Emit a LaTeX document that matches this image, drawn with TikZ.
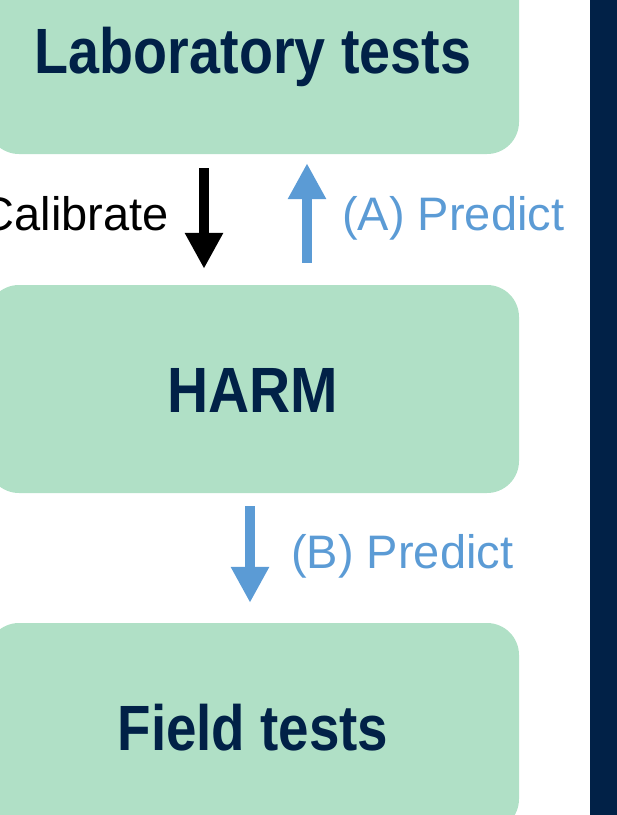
\documentclass[tikz,border=0pt]{standalone}
\usepackage{fontspec}
\setmainfont{Liberation Sans}
\usetikzlibrary{arrows.meta}
\definecolor{navy}{HTML}{012147}
\definecolor{mint}{HTML}{B0E0C6}
\definecolor{skyblue}{HTML}{5B9BD5}
\begin{document}
\begin{tikzpicture}[x=1pt,y=-1pt,
  box/.style={fill=mint, rounded corners=32pt, minimum width=532pt, minimum height=208pt,
    inner sep=0pt, text=navy, font=\fontsize{64}{64}\selectfont\bfseries,
    text height=46pt, text depth=0pt},
  blockarrow/.style={line width=10pt, -{Triangle[length=36pt,width=36pt]}},
  lbl/.style={font=\fontsize{47}{47}\selectfont, inner sep=0pt}]
\useasboundingbox (0,0) rectangle (617,815);
\clip (0,0) rectangle (617,815);
\fill[navy] (590,0) rectangle (617,815);
\node[box] (lab) at (253,50) {\scalebox{0.87}[1]{Laboratory tests}};
\node[box] (harm) at (253,389) {\scalebox{0.89}[1]{HARM}};
\node[box] (field) at (253,727) {\scalebox{0.855}[1]{Field tests}};
\draw[blockarrow, black] ([xshift=-49pt,yshift=-14pt]lab.south) -- ([xshift=-49pt,yshift=16pt]harm.north);
\draw[blockarrow, skyblue] ([xshift=54pt,yshift=22pt]harm.north) -- ([xshift=54pt,yshift=-9pt]lab.south);
\draw[blockarrow, skyblue] ([xshift=-3pt,yshift=-13pt]harm.south) -- ([xshift=-3pt,yshift=20pt]field.north);
\node[lbl, anchor=base east, text=black] (cal) at (169,230) {Calibrate};
\node[lbl, anchor=base west, text=skyblue] (pa) at (342,230) {(A) Predict};
\node[lbl, anchor=base west, text=skyblue] (pb) at (291,568) {(B) Predict};
\end{tikzpicture}
\end{document}
